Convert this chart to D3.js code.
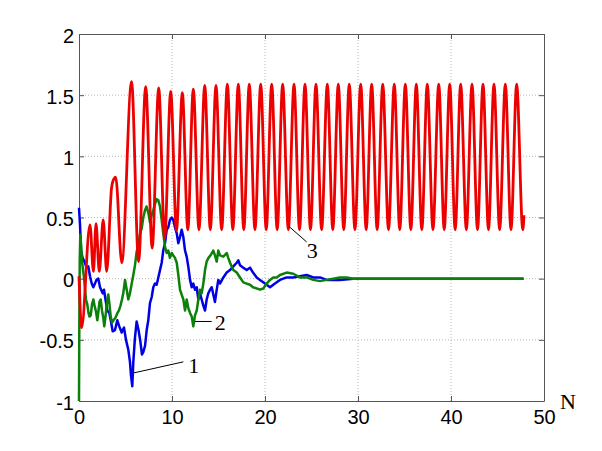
<!doctype html>
<html>
<head>
<meta charset="utf-8">
<style>
    body { margin: 0; background: #fff; }
    .lbl { font-family: "Liberation Serif", "Times New Roman", serif; fill: #000; }
</style>
<script src="https://d3js.org/d3.v7.min.js"></script>
</head>
<body>
<svg width="602" height="451"></svg>
<script>

    // axis ticks
    var xTicks = [0, 10, 20, 30, 40, 50];
    var yTicks = [-1, -0.5, 0, 0.5, 1, 1.5, 2];
    var yTickLabels = ["-1", "-0.5", "0", "0.5", "1", "1.5", "2"];

    // series 3 (red) - turning points
    var redN = [0, 0.28, 1.18, 1.55, 1.83, 2.18, 2.6, 2.98, 3.5, 3.62, 3.95, 4.6,
        5.65, 6.41, 7.17, 7.87, 8.57, 9.21, 9.86, 10.48, 11.11, 11.70, 12.29, 12.90,
        13.52, 14.12, 14.73, 15.34, 15.95, 16.54, 17.13, 17.72, 18.31, 18.92, 19.54, 20.13,
        20.72, 21.31, 21.90, 22.51, 23.12, 23.71, 24.30, 24.89, 25.48, 26.09, 26.70, 27.29,
        27.88, 28.47, 29.06, 29.67, 30.29, 30.88, 31.47, 32.06, 32.66, 33.28, 33.90, 34.49,
        35.09, 35.68, 36.27, 36.86, 37.45, 38.06, 38.68, 39.27, 39.86, 40.45, 41.04, 41.65,
        42.26, 42.85, 43.44, 44.03, 44.62, 45.23, 45.84, 46.45, 47.06, 47.72, 47.85];
    var redV = [0.02, -0.40, 0.44, 0.06, 0.45, 0.06, 0.48, 0.06, 0.74, 0.79, 0.83, 0.13,
        1.61, 0.14, 1.57, 0.25, 1.56, 0.33, 1.53, 0.39, 1.52, 0.40, 1.55, 0.40,
        1.58, 0.40, 1.58, 0.40, 1.59, 0.40, 1.59, 0.40, 1.59, 0.40, 1.59, 0.40,
        1.59, 0.40, 1.59, 0.40, 1.59, 0.40, 1.59, 0.40, 1.59, 0.40, 1.59, 0.40,
        1.59, 0.40, 1.59, 0.40, 1.59, 0.40, 1.59, 0.40, 1.59, 0.40, 1.59, 0.40,
        1.59, 0.40, 1.59, 0.40, 1.59, 0.40, 1.59, 0.40, 1.59, 0.40, 1.59, 0.40,
        1.59, 0.40, 1.59, 0.40, 1.59, 0.40, 1.59, 0.40, 1.59, 0.40, 0.52];

    // series 1 (blue)
    var blueN = [0, 0.11, 0.22, 0.38, 0.59, 0.81, 1.00, 1.18, 1.37, 1.54, 1.72, 1.88, 2.08,
        2.26, 2.55, 2.69, 2.85, 3.04, 3.26, 3.44, 3.62, 3.87, 4.12, 4.33, 4.59, 4.84, 5.05,
        5.30, 5.48, 5.59, 5.73, 5.84, 6.02, 6.20, 6.40, 6.61, 6.77, 6.91, 7.10, 7.28, 7.45,
        7.63, 7.82, 7.99, 8.17, 8.35, 8.53, 8.71, 8.89, 9.06, 9.25, 9.43, 9.60, 9.78, 9.97,
        10.14, 10.32, 10.51, 10.68, 10.86, 11.04, 11.22, 11.40, 11.58, 11.75, 11.94, 12.12,
        12.29, 12.47, 12.66, 12.83, 13.01, 13.19, 13.37, 13.55, 13.73, 13.90, 14.09, 14.27,
        14.44, 14.62, 14.81, 14.98, 15.16, 15.52, 15.88, 16.24, 16.59, 16.96, 17.13, 17.31,
        17.67, 18.03, 18.39, 18.71, 19.11, 19.46, 20.00, 20.54, 20.89, 21.26, 21.61, 22.33,
        23.04, 23.76, 24.48, 25.19, 25.91, 26.63, 27.34, 28.06, 29.49, 30.22, 47.8];
    var blueV = [0.58, 0.44, 0.23, 0.17, 0.14, 0.09, 0.10, 0.02, -0.04, -0.07, -0.04, -0.01, 0.00,
        -0.07, -0.12, -0.09, -0.17, -0.26, -0.28, -0.35, -0.43, -0.42, -0.34, -0.39, -0.44, -0.40, -0.50,
        -0.58, -0.68, -0.79, -0.88, -0.68, -0.48, -0.35, -0.42, -0.52, -0.62, -0.60, -0.55, -0.42, -0.34,
        -0.20, -0.15, -0.07, -0.04, -0.05, 0.01, 0.07, 0.13, 0.23, 0.29, 0.40, 0.42, 0.48, 0.50,
        0.48, 0.42, 0.37, 0.29, 0.34, 0.40, 0.34, 0.23, 0.18, 0.10, -0.01, -0.07,
        -0.04, -0.09, -0.07, -0.17, -0.12, -0.17, -0.22, -0.26, -0.17, -0.12, -0.09, -0.07,
        -0.13, -0.19, -0.09, -0.01, -0.04, 0.01, 0.05, 0.07, 0.10, 0.13, 0.15, 0.11,
        0.09, 0.07, 0.09, 0.05, 0.01, -0.01, -0.04, -0.07, -0.05, -0.03, -0.01, 0.01,
        0.01, 0.02, 0.03, 0.01, 0.01, -0.01, -0.01, -0.01, 0.00, 0.00, 0.00];

    // series 2 (green)
    var greenN = [0, 0.03, 0.08, 0.14, 0.22, 0.32, 0.43, 0.54, 0.65, 0.75, 0.89, 1.02, 1.13,
        1.26, 1.40, 1.54, 1.67, 1.83, 1.97, 2.10, 2.20, 2.33, 2.47, 2.61, 2.72, 2.85, 2.98,
        3.15, 3.28, 3.41, 3.55, 3.71, 3.92, 4.14, 4.30, 4.46, 4.62, 4.76, 4.95, 5.13, 5.30,
        5.48, 5.67, 5.84, 6.02, 6.20, 6.38, 6.56, 6.74, 6.91, 7.10, 7.26, 7.45, 7.63, 7.82,
        7.99, 8.17, 8.35, 8.53, 8.71, 8.89, 9.06, 9.25, 9.43, 9.60, 9.78, 9.97, 10.14, 10.32,
        10.51, 10.68, 10.86, 11.04, 11.22, 11.40, 11.58, 11.75, 11.94, 12.12, 12.29, 12.47,
        12.66, 12.83, 13.01, 13.19, 13.37, 13.55, 13.73, 13.92, 14.14, 14.44, 14.62, 14.81,
        14.98, 15.16, 15.52, 15.88, 16.05, 16.24, 16.59, 16.96, 17.31, 17.67, 18.03, 18.39,
        18.71, 19.11, 19.46, 19.82, 20.18, 20.54, 20.89, 21.26, 21.61, 22.33, 23.04, 23.76,
        24.48, 25.19, 25.91, 26.63, 27.34, 28.06, 28.78, 29.49, 47.8];
    var greenV = [-1.00, -0.42, 0.15, 0.36, 0.28, 0.15, 0.07, 0.01, -0.09, -0.17, -0.21, -0.28, -0.31,
        -0.30, -0.21, -0.17, -0.22, -0.27, -0.34, -0.26, -0.19, -0.17, -0.26, -0.32, -0.39, -0.31, -0.21,
        -0.13, -0.21, -0.31, -0.36, -0.34, -0.32, -0.28, -0.26, -0.22, -0.17, -0.12, -0.01, -0.09, -0.17,
        -0.12, -0.04, 0.03, 0.11, 0.22, 0.28, 0.37, 0.41, 0.50, 0.56, 0.59, 0.54, 0.46, 0.52,
        0.56, 0.61, 0.65, 0.64, 0.59, 0.48, 0.37, 0.26, 0.21, 0.23, 0.17, 0.21, 0.19, 0.17,
        0.13, 0.03, -0.09, -0.13, -0.17, -0.26, -0.17, -0.24, -0.28, -0.31, -0.39, -0.30,
        -0.26, -0.17, -0.09, -0.12, -0.04, 0.07, 0.14, 0.17, 0.19, 0.23, 0.19, 0.14,
        0.23, 0.19, 0.18, 0.21, 0.17, 0.13, 0.07, 0.05, 0.01, -0.03, -0.04, -0.05,
        -0.07, -0.08, -0.09, -0.08, -0.04, -0.01, 0.01, 0.01, 0.03, 0.05, 0.04, 0.01,
        0.01, -0.01, -0.02, -0.01, 0.00, 0.01, 0.01, 0.00, 0.00];

    // curve labels: leader line from (n1,v1) to (n2,v2), text at (tn,tv)
    var labelText = ["1", "2", "3"];
    var labelLine = [[5.91, -0.77, 11.22, -0.68], [12.47, -0.35, 14.27, -0.35], [22.61, 0.425, 24.48, 0.30]];
    var labelPos = [[11.75, -0.77], [14.6, -0.42], [24.5, 0.17]];

    var svg = d3.select("svg");
    var margin = {top: 34, right: 58, bottom: 50, left: 79};
    var width = +svg.attr("width") - margin.left - margin.right;
    var height = +svg.attr("height") - margin.top - margin.bottom;

    var g = svg.append("g")
        .attr("transform", "translate(" + margin.left + "," + margin.top + ")");

    var x = d3.scaleLinear().domain([0, 50]).range([0, width]);
    var y = d3.scaleLinear().domain([-1, 2]).range([height, 0]);

    // dotted grid
    g.append("g").selectAll("line")
        .data(xTicks.slice(1, -1))
        .enter().append("line")
        .attr("x1", function(d) { return x(d); })
        .attr("x2", function(d) { return x(d); })
        .attr("y1", 0).attr("y2", height)
        .attr("stroke", "#b8b8b8").attr("stroke-dasharray", "1,2");
    g.append("g").selectAll("line")
        .data(yTicks.slice(1, -1))
        .enter().append("line")
        .attr("y1", function(d) { return y(d); })
        .attr("y2", function(d) { return y(d); })
        .attr("x1", 0).attr("x2", width)
        .attr("stroke", "#b8b8b8").attr("stroke-dasharray", "1,2");

    // axes, ticks pointing inward
    var axisColor = "#555";
    var xAxis = g.append("g")
        .attr("transform", "translate(0," + height + ")")
        .call(d3.axisBottom(x).tickValues(xTicks).tickSizeInner(-5).tickSizeOuter(0).tickPadding(9));
    var yAxis = g.append("g")
        .call(d3.axisLeft(y).tickValues(yTicks).tickSizeInner(-5).tickSizeOuter(0).tickPadding(5)
            .tickFormat(function(d, i) { return yTickLabels[i]; }));
    var xTop = g.append("g")
        .call(d3.axisTop(x).tickValues(xTicks).tickSizeInner(-5).tickSizeOuter(0).tickFormat(""));
    var yRight = g.append("g")
        .attr("transform", "translate(" + width + ",0)")
        .call(d3.axisRight(y).tickValues(yTicks).tickSizeInner(-5).tickSizeOuter(0).tickFormat(""));

    [xAxis, yAxis, xTop, yRight].forEach(function(a) {
        a.attr("font-family", "'Liberation Sans', Arial, sans-serif").attr("font-size", 20);
        a.selectAll("path, line").attr("stroke", axisColor);
        a.selectAll("text").attr("fill", "#000");
    });
    yAxis.selectAll("text").attr("dy", "0.4em");

    // lines
    var line = d3.line()
        .x(function(d) { return x(d[0]); })
        .y(function(d) { return y(d[1]); });

    function pairs(ns, vs) { return ns.map(function(n, i) { return [n, vs[i]]; }); }

    g.append("path")
        .datum(pairs(blueN, blueV))
        .attr("fill", "none").attr("stroke", "#0000e6").attr("stroke-width", 2.5)
        .attr("stroke-linejoin", "round")
        .attr("d", line);

    g.append("path")
        .datum(pairs(greenN, greenV))
        .attr("fill", "none").attr("stroke", "#0b800b").attr("stroke-width", 2.5)
        .attr("stroke-linejoin", "round")
        .attr("d", line);

    g.append("path")
        .datum(pairs(redN, redV))
        .attr("fill", "none").attr("stroke", "#ec0000").attr("stroke-width", 2.8)
        .attr("d", line.curve(d3.curveMonotoneX));

    // curve labels
    labelText.forEach(function(t, i) {
        var l = labelLine[i];
        g.append("line")
            .attr("x1", x(l[0])).attr("y1", y(l[1]))
            .attr("x2", x(l[2])).attr("y2", y(l[3]))
            .attr("stroke", "#000").attr("stroke-width", 1);
        g.append("text")
            .attr("class", "lbl")
            .attr("font-size", 22)
            .attr("x", x(labelPos[i][0]))
            .attr("y", y(labelPos[i][1]))
            .text(t);
    });

    // axis name
    svg.append("text")
        .attr("class", "lbl")
        .attr("font-size", 22)
        .attr("x", margin.left + width + 16)
        .attr("y", margin.top + height + 8)
        .text("N");

</script>
</body>
</html>
